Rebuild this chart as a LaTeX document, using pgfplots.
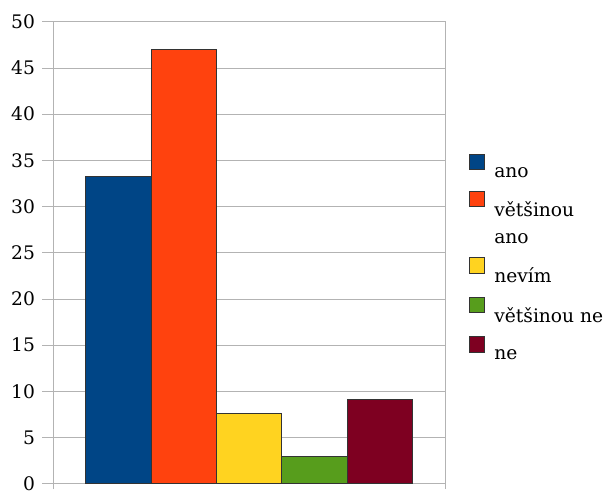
\documentclass[border=0pt]{standalone}
\usepackage{pgfplots}
\pgfplotsset{compat=1.18}
\usepackage{fontspec}
\setmainfont{DejaVu Serif}
\definecolor{cA}{HTML}{004586}
\definecolor{cB}{HTML}{FF420E}
\definecolor{cC}{HTML}{FFD320}
\definecolor{cD}{HTML}{579D1C}
\definecolor{cE}{HTML}{7E0021}
\definecolor{gridc}{HTML}{B3B3B3}
\begin{document}
\begin{tikzpicture}
\begin{axis}[
  scale only axis,
  width=294pt, height=346.5pt,
  xmin=-0.5, xmax=5.5,
  ymin=0, ymax=50,
  ytick={0,5,...,50},
  xtick={-0.5,5.5}, xticklabels={},
  tick pos=left,
  axis line style={gridc},
  ymajorgrids,
  major grid style={gridc, line width=0.6pt},
  tick style={gridc, line width=0.6pt},
  tick align=outside,
  major tick length=8pt,
  xtick style={/pgfplots/major tick length=4pt},
  ticklabel style={font=\fontsize{14}{16}\selectfont},
  yticklabel style={xshift=-2pt},
  /pgf/number format/assume math mode=true,
  ybar, bar width=1,
  legend cell align=left,
  legend style={draw=none, at={(rel axis cs:1.05,0.72)}, anchor=north west,
    font=\fontsize{14}{16}\selectfont, row sep=7pt, column sep=5pt},
  legend image code/.code={\draw[#1, line width=0.6pt] (0pt,2.5pt) rectangle (11.5pt,14pt);},
]
\addplot[fill=cA, draw=black!80, line width=0.6pt, bar shift=0pt] coordinates {(0.5,33.3)};
\addlegendentry{ano}
\addplot[fill=cB, draw=black!80, line width=0.6pt, bar shift=0pt] coordinates {(1.5,47)};
\addlegendentry{většinou}
\addlegendimage{empty legend}
\addlegendentry{ano}
\addplot[fill=cC, draw=black!80, line width=0.6pt, bar shift=0pt] coordinates {(2.5,7.6)};
\addlegendentry{nevím}
\addplot[fill=cD, draw=black!80, line width=0.6pt, bar shift=0pt] coordinates {(3.5,3)};
\addlegendentry{většinou ne}
\addplot[fill=cE, draw=black!80, line width=0.6pt, bar shift=0pt] coordinates {(4.5,9.1)};
\addlegendentry{ne}
\end{axis}
\path (-39.75pt,-5.5pt) rectangle (419.25pt,362.8pt);
\end{tikzpicture}
\end{document}
